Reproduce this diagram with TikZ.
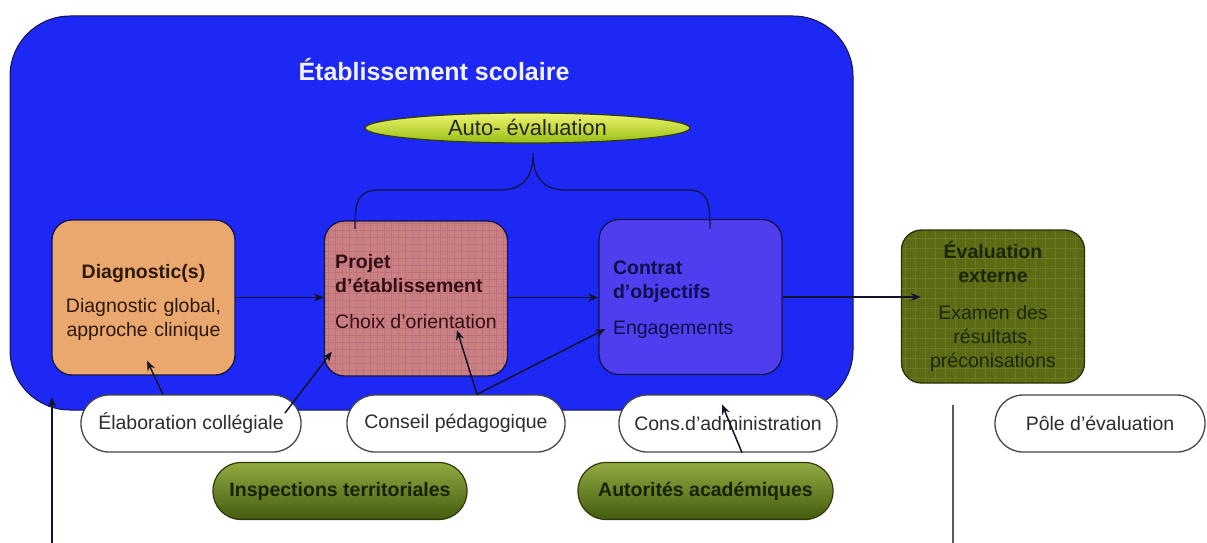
\documentclass[tikz,border=0pt]{standalone}
\usepackage{fontspec}
\setmainfont{Liberation Sans}
\usetikzlibrary{arrows.meta,shapes.geometric}
\definecolor{bluebg}{RGB}{30,40,245}
\definecolor{navyline}{RGB}{20,20,70}
\definecolor{titlec}{RGB}{240,242,255}
\definecolor{diagc}{RGB}{234,168,110}
\definecolor{diagtext}{RGB}{45,25,10}
\definecolor{projc}{RGB}{203,128,130}
\definecolor{projgrid}{RGB}{190,112,124}
\definecolor{projtext}{RGB}{50,15,20}
\definecolor{contc}{RGB}{78,62,238}
\definecolor{conttext}{RGB}{15,15,75}
\definecolor{evalc}{RGB}{92,106,20}
\definecolor{evalgrid}{RGB}{106,121,36}
\definecolor{evaltext}{RGB}{28,38,4}
\definecolor{evalborder}{RGB}{40,48,8}
\definecolor{autotop}{RGB}{240,245,110}
\definecolor{autobot}{RGB}{150,190,20}
\definecolor{autoborder}{RGB}{50,60,10}
\definecolor{gtop}{RGB}{145,170,65}
\definecolor{gbot}{RGB}{68,92,14}
\definecolor{gborder}{RGB}{45,60,10}
\definecolor{gtext}{RGB}{22,34,0}
\definecolor{pilltext}{RGB}{45,45,45}
\definecolor{pillborder}{RGB}{70,70,70}
\definecolor{arrc}{RGB}{20,20,40}
\definecolor{vline}{RGB}{90,90,90}
\begin{document}
\begin{tikzpicture}[x=1pt,y=-1pt,
  every node/.style={font=\fontsize{19.5}{24}\selectfont},
  box/.style={draw=navyline, line width=1.3pt, rounded corners=20pt,
    minimum width=183pt, minimum height=155pt, inner sep=0pt},
  pill/.style={draw=pillborder, fill=white, line width=1.3pt, rounded corners=28pt,
    minimum height=57pt, text=pilltext},
  gpill/.style={draw=gborder, line width=1.2pt, top color=gtop, bottom color=gbot,
    rounded corners=28pt, minimum height=57pt, text=gtext,
    font=\bfseries\fontsize{19.5}{24}\selectfont},
  arr/.style={draw=arrc, line width=1.5pt, -{Stealth[length=10pt,width=8pt]}},
  braceline/.style={draw=navyline, line width=1.3pt},
  projgridpic/.style={path picture={\draw[projgrid, line width=0.6pt]
    (path picture bounding box.south west) grid[step=7pt] (path picture bounding box.north east);}},
  evalgridpic/.style={path picture={\draw[evalgrid, line width=0.6pt]
    (path picture bounding box.south west) grid[step=10pt] (path picture bounding box.north east);}},
]
\useasboundingbox (0,0) rectangle (1207,543);
\fill[white] (0,0) rectangle (1207,543);

% school frame
\node[draw=navyline, fill=bluebg, line width=1pt, rounded corners=60pt,
  minimum width=843pt, minimum height=394pt, inner sep=0pt] (etab) at (431.5,213) {};
\node[text=titlec, font=\bfseries\fontsize{25}{30}\selectfont] (title) at (434,70) {Établissement scolaire};

% auto-evaluation
\node[ellipse, draw=autoborder, line width=1.2pt, top color=autotop, bottom color=autobot,
  minimum width=325pt, minimum height=30pt, inner sep=0pt,
  label={[font=\fontsize{22}{26}\selectfont, text=black!85]center:Auto- évaluation}] (auto) at (527.5,128) {};

% main boxes
\node[box, fill=diagc, text=diagtext, align=center, text width=170pt] (diag) at (143.5,297.5)
  {\mbox{}\\\textbf{Diagnostic(s)}\\[10pt]Diagnostic global,\\approche clinique};
\node[box, fill=projc, projgridpic, text=projtext, align=left] (proj) at (416,298.5)
  {\textbf{Projet}\\\textbf{d’établissement}\\[12pt]Choix d’orientation\\[-10pt]\mbox{}};
\node[box, fill=contc, text=conttext, align=left, text width=155pt, inner xsep=14pt] (contrat) at (690.5,297)
  {\mbox{}\\[-4pt]\textbf{Contrat}\\\textbf{d’objectifs}\\[12pt]Engagements};
\node[box, draw=evalborder, fill=evalc, evalgridpic, text=evaltext, align=center, text width=175pt,
  minimum height=153pt] (eval) at (993,306.5)
  {\textbf{Évaluation}\\\textbf{externe}\\[13pt]Examen des\\résultats,\\préconisations};

% brace
\draw[braceline] (355,229) .. controls (355,200) and (358,190) .. (380,190) -- (500,190)
  .. controls (525,190) and (533,175) .. (533,153)
  .. controls (533,175) and (541,190) .. (566,190) -- (688,190)
  .. controls (707,190) and (710,200) .. (710,229);

% pills
\node[pill, minimum width=220pt] (elab) at (191,423.5) {Élaboration collégiale};
\node[pill, minimum width=218pt] (conseil) at (456,423.5) {Conseil pédagogique};
\node[pill, minimum width=218pt] (cons) at (728,423.5) {Cons.d’administration};
\node[pill, minimum width=210pt] (pole) at (1100,423.5) {Pôle d’évaluation};

\node[gpill, minimum width=254pt] (insp) at (340,491) {Inspections territoriales};
\node[gpill, minimum width=255pt] (autor) at (705.5,491) {Autorités académiques};

% connectors
\draw[arr] (diag.east) -- (diag.east -| proj.west);
\draw[arr] (proj.east |- diag.east) -- (diag.east -| contrat.west);
\draw[arr] (contrat.east) -- ([xshift=20pt]contrat.east -| eval.west);
\draw[arr] ([xshift=-28pt]elab.north) -- ([xshift=3.5pt,yshift=15pt]diag.south);
\draw[arr] ([xshift=94pt,yshift=10.5pt]elab.center) -- ([xshift=8pt,yshift=25pt]proj.south west);
\draw[arr] ([xshift=21pt]conseil.north) -- ([xshift=41pt,yshift=-31.5pt]proj.center);
\draw[arr] ([xshift=21pt]conseil.north) -- ([xshift=7pt,yshift=-32pt]contrat.west);
\draw[arr] ([xshift=14pt]cons.south) -- ([xshift=-6pt,yshift=-10pt]cons.north);

\coordinate (lb) at (52,543);
\coordinate (lt) at (52,397);
\draw[arr] (lb) -- (lt);
\coordinate (rt) at (953,405);
\coordinate (rb) at (953,543);
\draw[draw=vline, line width=1.3pt] (rt) -- (rb);
\end{tikzpicture}
\end{document}
